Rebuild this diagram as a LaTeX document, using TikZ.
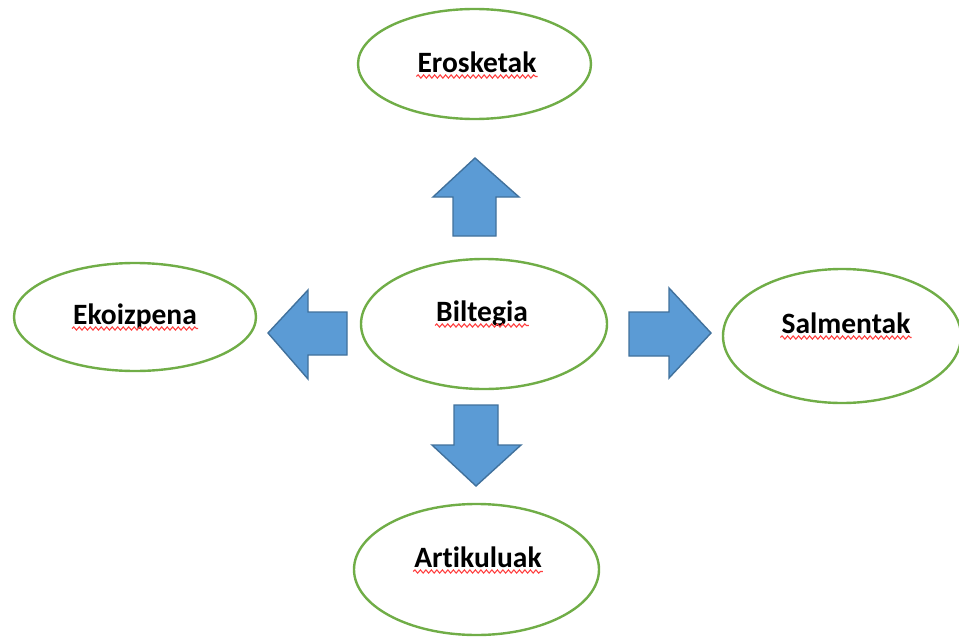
\documentclass[tikz,border=0pt]{standalone}
\usepackage{fontspec}
\setmainfont{Carlito}[Ligatures={NoCommon}]
\usetikzlibrary{shapes.geometric,decorations.pathmorphing}
\definecolor{leaf}{HTML}{70AD47}
\definecolor{blockfill}{HTML}{5B9BD5}
\definecolor{blockedge}{HTML}{41719C}
\definecolor{spell}{HTML}{FF4040}
\tikzset{
  bubble/.style={ellipse, draw=leaf, line width=2.4pt, inner sep=0pt},
  lbl/.style={font=\bfseries\fontsize{29.5}{34}\selectfont, inner sep=0pt, anchor=base},
  blockarrow/.style={fill=blockfill, draw=blockedge, line width=1.4pt, line join=miter},
  squiggle/.style={draw=spell, line width=1.1pt,
    decorate, decoration={snake, segment length=5.5pt, amplitude=1.6pt}}
}
\newcommand{\wavyunder}[1]{%
  \draw[squiggle] ([xshift=-1pt,yshift=-4.5pt]#1.base west) -- ([xshift=1pt,yshift=-4.5pt]#1.base east);}
\begin{document}
\begin{tikzpicture}[x=1pt,y=-1pt]
\useasboundingbox (0,0) rectangle (959,637);

% the five ellipses
\node[bubble, minimum width=233pt, minimum height=110pt] (ero) at (474.5,64) {};
\node[bubble, minimum width=242pt, minimum height=108pt] (eko) at (135,317) {};
\node[bubble, minimum width=246pt, minimum height=130pt] (bil) at (484,324) {};
\node[bubble, minimum width=238pt, minimum height=134pt] (sal) at (842,336) {};
\node[bubble, minimum width=245pt, minimum height=131pt] (art) at (476.5,569.5) {};

% labels
\node[lbl] (eroT) at (477,72) {Erosketak};
\node[lbl] (ekoT) at (135,324) {Ekoizpena};
\node[lbl] (bilT) at (482,321) {Biltegia};
\node[lbl] (salT) at (846,333) {Salmentak};
\node[lbl] (artT) at (478,567) {Artikuluak};

\wavyunder{eroT}
\wavyunder{ekoT}
\wavyunder{bilT}
\wavyunder{salT}
\wavyunder{artT}

% block arrows from the store outwards
\draw[blockarrow] (453,236) -- (453,197) -- (433,197) -- (475,158) -- (519,197)
  -- (496,197) -- (496,236) -- cycle;
\draw[blockarrow] (629,312) -- (669,312) -- (669,288) -- (711,333) -- (669,378)
  -- (669,356) -- (629,356) -- cycle;
\draw[blockarrow] (347,312) -- (308,312) -- (308,290) -- (268,333) -- (308,379)
  -- (308,355) -- (347,355) -- cycle;
\draw[blockarrow] (454,405) -- (498,405) -- (498,445) -- (521,445) -- (476,486)
  -- (432,445) -- (454,445) -- cycle;
\end{tikzpicture}
\end{document}
